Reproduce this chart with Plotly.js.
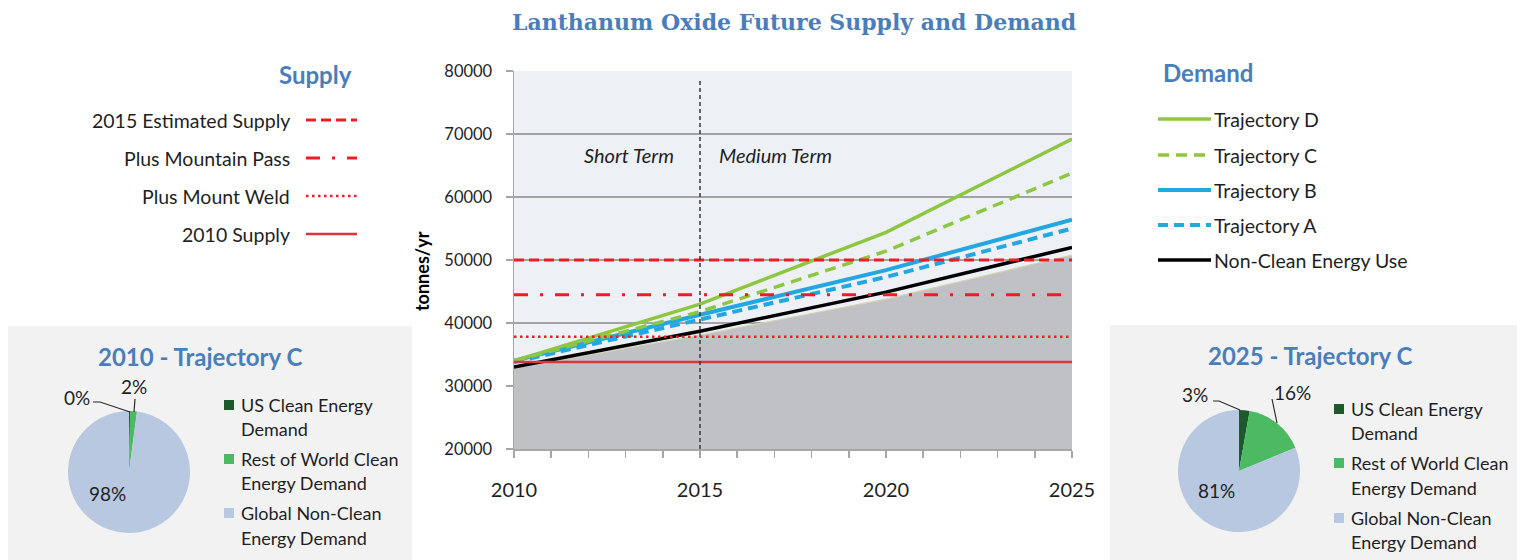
<!DOCTYPE html>
<html>
<head>
<meta charset="utf-8">
<script src="https://cdn.plot.ly/plotly-3.0.1.min.js"></script>
<style>
html,body{margin:0;padding:0;background:#fff;}
#chart{width:1525px;height:560px;}
</style>
</head>
<body>
<div id="chart"></div>
<script>
// ---------------- DATA ----------------
const years = [2010, 2015, 2020, 2025];
const trajD = [34000, 43000, 54400, 69200];
const trajC = [34000, 41800, 51400, 63800];
const trajB = [34000, 41300, 48400, 56400];
const trajA = [33800, 40600, 47300, 55000];
const nonClean = [33000, 38700, 44900, 52000];
const baseArea = [32800, 38100, 43800, 50800];

const supplyNames = ['2015 Estimated Supply', 'Plus Mountain Pass', 'Plus Mount Weld', '2010 Supply'];
const supplyValues = [50000, 44500, 37800, 33800];

const demandNames = ['Trajectory D', 'Trajectory C', 'Trajectory B', 'Trajectory A', 'Non-Clean Energy Use'];

const dividerYear = 2015;
const periodLabels = ['Short Term', 'Medium Term'];

const xTickVals = [2010, 2015, 2020, 2025];
const yTickVals = [20000, 30000, 40000, 50000, 60000, 70000, 80000];

const pieLabels = ['US Clean Energy Demand', 'Rest of World Clean Energy Demand', 'Global Non-Clean Energy Demand'];
const pieLegendLines = [['US Clean Energy', 'Demand'], ['Rest of World Clean', 'Energy Demand'], ['Global Non-Clean', 'Energy Demand']];
const pie2010 = [0.3, 1.8, 97.9];
const pie2025 = [2.8, 16.0, 81.2];
const pie2010Text = ['0%', '2%', '98%'];
const pie2025Text = ['3%', '16%', '81%'];
const pieTitles = ['2010 - Trajectory C', '2025 - Trajectory C'];

// ---------------- STYLE ----------------
const W = 1525, H = 560;
const px = x => x / W;
const py = y => 1 - y / H;
const BLUE_T = '#4a7ebb';
const TXT = '#1f1f1f';
const FONT = 'Lato, "Open Sans", sans-serif';

const supplyStyles = [
  {color: '#ee1c25', width: 3, dash: '10px,5px'},
  {color: '#ee1c25', width: 3, dash: '14px,12px,3px,12px'},
  {color: '#ee1c25', width: 2.5, dash: '2.5px,3.5px'},
  {color: '#d8373b', width: 2.5, dash: 'solid'}
];
const demandSeries = [trajD, trajC, trajB, trajA, nonClean];
const demandStyles = [
  {color: '#8dc641', width: 3.5, dash: 'solid'},
  {color: '#8dc641', width: 3.5, dash: '11px,7px'},
  {color: '#22a7e0', width: 4, dash: 'solid'},
  {color: '#22a7e0', width: 4, dash: '10px,6px'},
  {color: '#000000', width: 3.5, dash: 'solid'}
];
const pieColors = ['#1c5a2b', '#4cba62', '#b8c8e1'];

// ---------------- TRACES ----------------
const traces = [];
traces.push({
  type: 'scatter', mode: 'lines', x: years, y: baseArea,
  fill: 'tozeroy', fillcolor: '#c0c1c5',
  line: {color: '#d9d1b3', width: 1.2}, hoverinfo: 'skip', showlegend: false
});
for (let i = demandSeries.length - 1; i >= 0; i--) {
  traces.push({
    type: 'scatter', mode: 'lines', name: demandNames[i],
    x: years, y: demandSeries[i],
    line: demandStyles[i], showlegend: false
  });
}
for (let i = supplyValues.length - 1; i >= 0; i--) {
  traces.push({
    type: 'scatter', mode: 'lines', name: supplyNames[i],
    x: [years[0], years[years.length - 1]], y: [supplyValues[i], supplyValues[i]],
    line: supplyStyles[i], showlegend: false
  });
}
const pieDomains = [
  {x: [px(68), px(190)], y: [py(533), py(411)]},
  {x: [px(1178), px(1300)], y: [py(532), py(410)]}
];
[pie2010, pie2025].forEach((vals, k) => {
  traces.push({
    type: 'pie', labels: pieLabels, values: vals, sort: false,
    direction: 'clockwise', rotation: 0, textinfo: 'none',
    marker: {colors: pieColors, line: {width: 0}},
    domain: pieDomains[k], showlegend: false, hoverinfo: 'label+percent'
  });
});

// ---------------- SHAPES & ANNOTATIONS ----------------
const shapes = [];
const annotations = [];
function txt(x, y, text, size, color, xanchor, extra) {
  annotations.push(Object.assign({
    xref: 'paper', yref: 'paper', x: px(x), y: py(y), text: text, showarrow: false,
    xanchor: xanchor || 'center', yanchor: 'middle',
    font: {family: FONT, size: size, color: color || TXT}
  }, extra || {}));
}

shapes.push({type: 'rect', xref: 'paper', yref: 'paper', x0: px(8), x1: px(412), y0: py(560), y1: py(326),
  fillcolor: '#f2f2f2', line: {width: 0}, layer: 'below'});
shapes.push({type: 'rect', xref: 'paper', yref: 'paper', x0: px(1110), x1: px(1517), y0: py(560), y1: py(325),
  fillcolor: '#f2f2f2', line: {width: 0}, layer: 'below'});

shapes.push({type: 'line', xref: 'x', yref: 'y', x0: dividerYear, x1: dividerYear, y0: 20000, y1: 78600,
  line: {color: '#3a3a3a', width: 1.5, dash: '4px,3px'}});
annotations.push({xref: 'x', yref: 'y', x: dividerYear, y: 66700, text: periodLabels[0], showarrow: false,
  xanchor: 'right', yanchor: 'middle', xshift: -24, font: {family: FONT, size: 20, color: TXT, style: 'italic'}});
annotations.push({xref: 'x', yref: 'y', x: dividerYear, y: 66700, text: periodLabels[1], showarrow: false,
  xanchor: 'left', yanchor: 'middle', xshift: 17, font: {family: FONT, size: 20, color: TXT, style: 'italic'}});

txt(422, 271, '<b>tonnes/yr</b>', 18, '#000', 'center', {textangle: -90});

// Supply legend
txt(354, 75, '<b>Supply</b>', 24, BLUE_T, 'right');
const supplyY = [120, 158, 196, 234];
supplyNames.forEach((n, i) => {
  txt(292, supplyY[i], n, 19.5, TXT, 'right');
  shapes.push({type: 'line', xref: 'paper', yref: 'paper', x0: px(306), x1: px(357), y0: py(supplyY[i]), y1: py(supplyY[i]),
    line: supplyStyles[i]});
});

// Demand legend
txt(1161, 72, '<b>Demand</b>', 24, BLUE_T, 'left');
const demandY = [119, 155, 190, 225, 260];
demandNames.forEach((n, i) => {
  txt(1212, demandY[i], n, 19.5, TXT, 'left');
  shapes.push({type: 'line', xref: 'paper', yref: 'paper', x0: px(1158), x1: px(1211), y0: py(demandY[i]), y1: py(demandY[i]),
    line: demandStyles[i]});
});

// Pie titles
txt(200, 356, '<b>' + pieTitles[0] + '</b>', 24, BLUE_T, 'center');
txt(1310, 355, '<b>' + pieTitles[1] + '</b>', 24, BLUE_T, 'center');

// Pie legends
const pieLegX = [[224, 239], [1334, 1349]];
const pieLegY = [[405, 429, 459, 483, 513, 538], [409, 433, 463, 488, 518, 542]];
[0, 1].forEach(k => {
  pieLegendLines.forEach((lines, i) => {
    const y1 = pieLegY[k][2 * i], y2 = pieLegY[k][2 * i + 1];
    shapes.push({type: 'rect', xref: 'paper', yref: 'paper', x0: px(pieLegX[k][0]), x1: px(pieLegX[k][0] + 10),
      y0: py(y1 + 5), y1: py(y1 - 5), fillcolor: pieColors[i], line: {width: 0}});
    lines.forEach((t, j) => {
      txt(pieLegX[k][1], j === 0 ? y1 : y2, t, 18, TXT, 'left');
    });
  });
});

// Pie percent labels + leader lines
const pieTextPos = [[[77, 397], [134, 386], [107, 493]], [[1195, 394], [1292, 392], [1216, 490]]];
[pie2010Text, pie2025Text].forEach((tx, k) => {
  tx.forEach((t, i) => {
    txt(pieTextPos[k][i][0], pieTextPos[k][i][1], t, 19, TXT, 'center');
  });
});
const leaders = [
  [[93, 402], [100, 402], [130, 412]],
  [[135, 399], [134, 412]],
  [[1213, 401], [1219, 401], [1240, 410]],
  [[1272, 399], [1277, 423]]
];
leaders.forEach(pts => {
  const path = 'M' + pts.map(p => px(p[0]) + ',' + py(p[1])).join(' L');
  shapes.push({type: 'path', xref: 'paper', yref: 'paper', path: path, line: {color: '#2b2b2b', width: 1.2}});
});

// ---------------- LAYOUT ----------------
const layout = {
  width: W, height: H,
  margin: {l: 0, r: 0, t: 0, b: 0},
  paper_bgcolor: '#ffffff',
  plot_bgcolor: '#edf1f6',
  showlegend: false,
  hovermode: false,
  title: {
    text: '<b>Lanthanum Oxide Future Supply and Demand</b>',
    x: px(794), xanchor: 'center', y: py(22), yanchor: 'middle',
    font: {family: '"DejaVu Serif", serif', size: 22, color: BLUE_T}
  },
  xaxis: {
    domain: [px(514), px(1072)],
    range: [2010, 2025],
    tickmode: 'array', tickvals: xTickVals, ticktext: xTickVals.map(String),
    ticks: 'outside', ticklen: 7, tickwidth: 1.5, tickcolor: '#a6a6a6',
    minor: {dtick: 1, tick0: 2010, ticks: 'outside', ticklen: 7, tickwidth: 1.5, tickcolor: '#a6a6a6', showgrid: false},
    ticklabelstandoff: 15,
    showgrid: false, zeroline: false,
    showline: true, linecolor: '#a6a6a6', linewidth: 1.5,
    tickfont: {family: FONT, size: 20, color: TXT},
    fixedrange: true
  },
  yaxis: {
    domain: [py(449), py(71)],
    range: [20000, 80000],
    tickmode: 'array', tickvals: yTickVals, ticktext: yTickVals.map(String),
    ticks: 'outside', ticklen: 7, tickwidth: 1.5, tickcolor: '#a6a6a6',
    ticklabelstandoff: 10,
    showgrid: true, gridcolor: '#a3a3a3', gridwidth: 1.3,
    zeroline: false,
    showline: true, linecolor: '#a6a6a6', linewidth: 1.5,
    tickfont: {family: FONT, size: 16.5, color: TXT},
    fixedrange: true
  },
  shapes: shapes,
  annotations: annotations
};

Plotly.newPlot('chart', traces, layout, {displayModeBar: false, staticPlot: true});
</script>
</body>
</html>
